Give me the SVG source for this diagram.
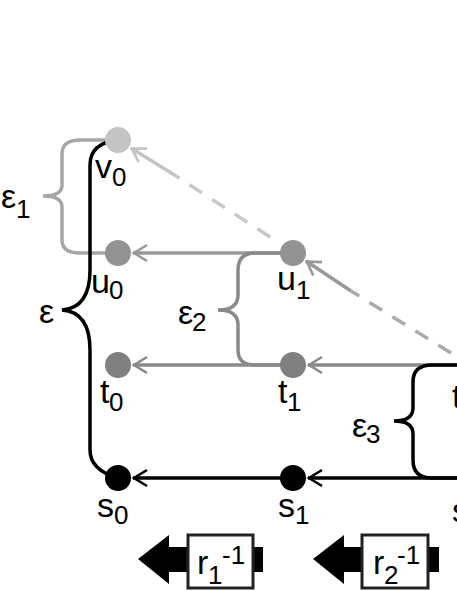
<svg xmlns="http://www.w3.org/2000/svg" width="457" height="591" viewBox="0 0 457 591">
<defs>
<marker id="ab" markerUnits="userSpaceOnUse" markerWidth="18" markerHeight="18" refX="14" refY="8" orient="auto" overflow="visible"><path d="M0 0L13 8L0 16" fill="none" stroke="context-stroke" stroke-width="2.6"/></marker>
</defs>
<style>
text{font-family:"Liberation Sans",Arial,sans-serif;font-size:34px;fill:#000}
.s{font-size:26px}
.b{fill:none;stroke-width:3.5}
.l{fill:none;stroke-width:3.5}
.box{fill:#fff;stroke:#222;stroke-width:3}
</style>
<rect width="457" height="591" fill="#fff"/>
<g id="connectors">
<path class="l" d="M293 478H133" stroke="#000" marker-end="url(#ab)"/>
<path class="l" d="M457 478H308" stroke="#000" marker-end="url(#ab)"/>
<path class="l" d="M457 365H308" stroke="#8a8a8a" marker-end="url(#ab)"/>
<path class="l" d="M293 365H133" stroke="#8a8a8a" marker-end="url(#ab)"/>
<path class="l" d="M293 253H133" stroke="#999" marker-end="url(#ab)"/>
<path class="l" d="M351 291L306 261" stroke="#999" marker-end="url(#ab)"/>
<path class="l" d="M451 353L351 291" stroke="#aaa" stroke-dasharray="15 12"/>
<path class="l" d="M176 176L131 148" stroke="#c4c4c4" marker-end="url(#ab)"/>
<path class="l" d="M270 237L176 176" stroke="#c8c8c8" stroke-dasharray="15 12"/>
</g>
<g id="brace-eps1"><path class="b" stroke="#a6a6a6" d="M118 140H80Q62 140 62 154V185Q62 196 43 196Q62 196 62 207V240Q62 253 80 253H118"/></g>
<g id="brace-eps"><path class="b" stroke="#000" d="M118 140Q90 143 90 165V270Q90 308 62 310Q90 312 90 350V450Q90 470 118 478"/></g>
<g id="brace-eps2"><path class="b" stroke="#8a8a8a" d="M293 253H255Q238 253 238 270V295Q238 310 218 310Q238 310 238 325V350Q238 365 255 365H293"/></g>
<g id="brace-eps3"><path class="b" stroke="#000" d="M457 365H432Q413 365 413 382V408Q413 421 394 421Q413 421 413 434V460Q413 478 432 478H457"/></g>
<g id="v0"><circle cx="118" cy="140" r="13" fill="#c4c4c4"/><text x="95" y="178">v</text><text class="s" x="112" y="186">0</text></g>
<g id="u0"><circle cx="118" cy="253" r="13" fill="#939393"/><text x="91" y="293">u</text><text class="s" x="109" y="299">0</text></g>
<g id="t0"><circle cx="118" cy="365" r="13" fill="#808080"/><text x="100" y="403">t</text><text class="s" x="109" y="411">0</text></g>
<g id="s0"><circle cx="118" cy="478" r="13" fill="#000"/><text x="97" y="517">s</text><text class="s" x="114" y="524">0</text></g>
<g id="u1"><circle cx="293" cy="253" r="13" fill="#939393"/><text x="277" y="290">u</text><text class="s" x="296" y="299">1</text></g>
<g id="t1"><circle cx="293" cy="365" r="13" fill="#808080"/><text x="278" y="403">t</text><text class="s" x="287" y="411">1</text></g>
<g id="s1"><circle cx="293" cy="478" r="13" fill="#000"/><text x="278" y="517">s</text><text class="s" x="295" y="524">1</text></g>
<g id="t2"><text x="452" y="408">t</text></g>
<g id="s2"><text x="452" y="522">s</text></g>
<text x="1" y="208">ε</text><text class="s" x="16" y="218">1</text>
<text x="39" y="323">ε</text>
<text x="178" y="324">ε</text><text class="s" x="192" y="331">2</text>
<text x="352" y="437">ε</text><text class="s" x="366" y="443">3</text>
<g id="r1">
<path d="M138 559L169 535V547H190V572H169V584Z" fill="#000"/>
<rect x="253" y="547" width="10" height="25" fill="#000"/>
<rect class="box" x="188" y="535" width="65" height="53"/>
<text x="197" y="574">r</text><text class="s" x="208" y="584">1</text><text class="s" x="222" y="564">-1</text>
</g>
<g id="r2">
<path d="M313 559L344 535V547H364V572H344V584Z" fill="#000"/>
<rect x="428" y="547" width="11" height="25" fill="#000"/>
<rect class="box" x="362" y="535" width="66" height="53"/>
<text x="373" y="574">r</text><text class="s" x="384" y="584">2</text><text class="s" x="397" y="564">-1</text>
</g>
</svg>
